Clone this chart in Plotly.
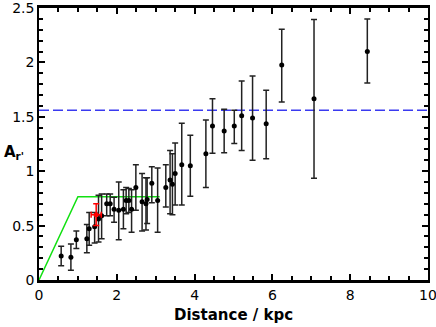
import plotly.graph_objects as go

# black points: distance (kpc), A_r', upper / lower error
dist = [0.57, 0.82, 0.96, 1.23, 1.29, 1.43, 1.53, 1.61, 1.74, 1.83, 1.93, 2.05,
        2.17, 2.24, 2.31, 2.38, 2.49, 2.65, 2.75, 2.78, 2.90, 3.05, 3.26, 3.37,
        3.43, 3.50, 3.67, 3.89, 4.29, 4.46, 4.76, 5.02, 5.21, 5.49, 5.84, 6.24,
        7.07, 8.44]
ar = [0.22, 0.21, 0.37, 0.38, 0.47, 0.49, 0.56, 0.59, 0.70, 0.70, 0.65, 0.64,
      0.65, 0.73, 0.73, 0.65, 0.85, 0.72, 0.70, 0.74, 0.89, 0.73, 0.85, 0.92,
      0.88, 0.98, 1.06, 1.05, 1.16, 1.415, 1.37, 1.415, 1.51, 1.49, 1.435, 1.975,
      1.665, 2.10]
err_up = [0.09, 0.12, 0.08, 0.13, 0.15, 0.13, 0.22, 0.20, 0.09, 0.09, 0.11, 0.26,
          0.18, 0.12, 0.11, 0.18, 0.21, 0.26, 0.24, 0.20, 0.15, 0.30, 0.21, 0.27,
          0.28, 0.28, 0.38, 0.28, 0.31, 0.25, 0.20, 0.145, 0.32, 0.385, 0.31, 0.33,
          0.73, 0.30]
err_down = [0.09, 0.12, 0.08, 0.13, 0.15, 0.15, 0.21, 0.21, 0.11, 0.11, 0.12, 0.27,
            0.18, 0.12, 0.11, 0.21, 0.21, 0.27, 0.24, 0.22, 0.18, 0.29, 0.18, 0.31,
            0.28, 0.29, 0.37, 0.28, 0.31, 0.25, 0.20, 0.16, 0.32, 0.39, 0.32, 0.34,
            0.73, 0.29]

# red point
red_dist = [1.47]
red_ar = [0.60]
red_xerr = [0.13]
red_yerr = [0.10]

# green model line and blue asymptote
model_x = [0, 1.0, 3.1]
model_y = [0, 0.765, 0.765]
asym_x = [0, 10]
asym_y = [1.56, 1.56]

font = "DejaVu Sans, Arial, sans-serif"

fig = go.Figure()

fig.add_trace(go.Scatter(x=asym_x, y=asym_y, mode="lines",
                         line=dict(color="#3a3af0", width=1.5, dash="10px,4px")))
fig.add_trace(go.Scatter(x=model_x, y=model_y, mode="lines",
                         line=dict(color="#11e011", width=1.5)))
fig.add_trace(go.Scatter(
    x=dist, y=ar, mode="markers",
    marker=dict(color="black", size=5),
    error_y=dict(type="data", array=err_up, arrayminus=err_down,
                 color="#222222", thickness=1.5, width=3)
))
fig.add_trace(go.Scatter(
    x=red_dist, y=red_ar, mode="markers",
    marker=dict(color="red", size=5),
    error_y=dict(type="data", array=red_yerr, color="red", thickness=1.5, width=3),
    error_x=dict(type="data", array=red_xerr, color="red", thickness=1.5, width=3)
))

fig.update_layout(
    width=436, height=327,
    margin=dict(l=39, r=8, t=8, b=47),
    paper_bgcolor="white", plot_bgcolor="white",
    showlegend=False,
    font=dict(family=font, size=14, color="black"),
)

fig.update_xaxes(
    range=[0, 10], dtick=2, tick0=0, showgrid=False, zeroline=False,
    showline=True, linecolor="black", linewidth=3, mirror="allticks",
    ticks="inside", ticklen=6, tickwidth=1.5, tickcolor="black",
    minor=dict(dtick=0.5, ticks="inside", ticklen=4, tickcolor="black", showgrid=False),
    automargin=False, ticklabeloverflow="allow",
    tickfont=dict(size=14),
)
fig.update_yaxes(
    range=[0, 2.5], dtick=0.5, tick0=0, showgrid=False, zeroline=False,
    showline=True, linecolor="black", linewidth=1.5, mirror="allticks",
    ticks="inside", ticklen=6, tickwidth=1.5, tickcolor="black",
    minor=dict(dtick=0.1, ticks="inside", ticklen=4, tickcolor="black", showgrid=False),
    automargin=False, ticklabeloverflow="allow",
    tickfont=dict(size=14),
)

fig.add_annotation(
    text="<b>Distance / kpc</b>", xref="paper", yref="paper",
    x=0.5, y=0, yshift=-35, xanchor="center", yanchor="middle",
    showarrow=False, font=dict(size=15),
)
fig.add_annotation(
    text="<b>A<sub>r'</sub></b>", xref="paper", yref="y",
    x=0, y=1.17, xshift=-37, xanchor="left", yanchor="middle",
    showarrow=False, font=dict(size=15),
)

fig.write_html("out.html", config={"displayModeBar": False},
               post_script="document.body.style.margin='0';")
